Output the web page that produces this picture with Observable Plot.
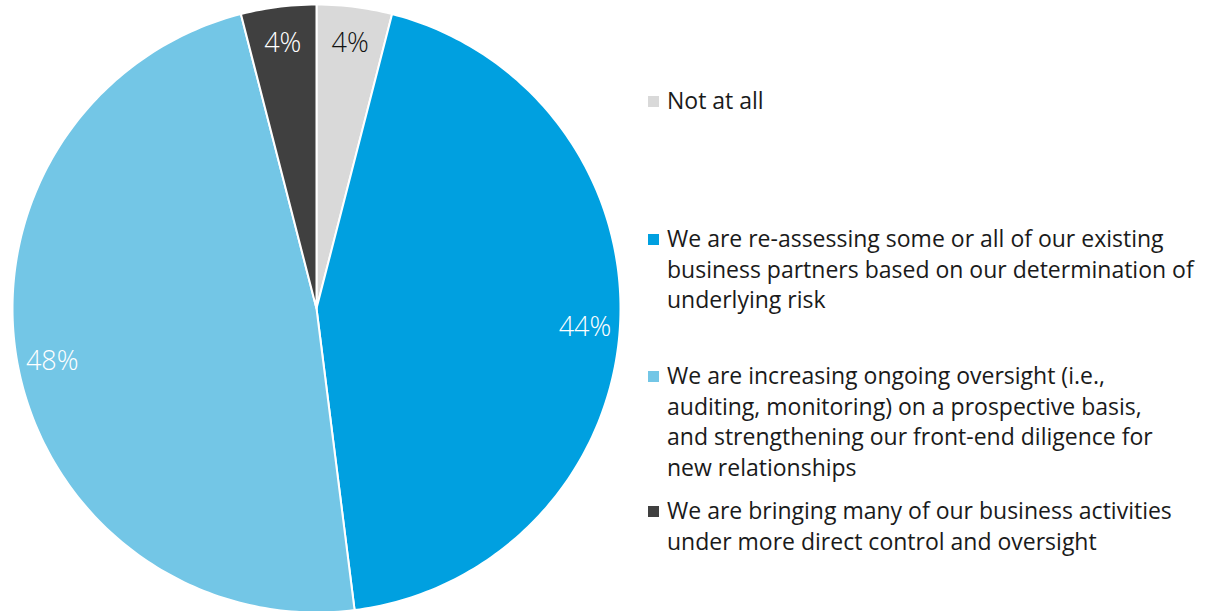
<!DOCTYPE html>
<html>
<head>
<meta charset="utf-8">
<script src="https://cdn.jsdelivr.net/npm/d3@7"></script>
<script src="https://cdn.jsdelivr.net/npm/@observablehq/plot@0.6"></script>
<style>
  html, body { margin: 0; padding: 0; background: #fff; }
  #wrap { position: relative; width: 1211px; height: 611px; overflow: hidden; font-family: "Open Sans", sans-serif; }
  #chart { position: absolute; left: 0; top: 0; }
  #chart text { font-family: "Open Sans", sans-serif; }
  #legend { position: absolute; left: 648px; top: 0; width: 563px; color: #1a1a1a; font-size: 23px; line-height: 30.5px; white-space: nowrap; }
  .item { position: absolute; left: 0; display: flex; align-items: flex-start; }
  .sw { width: 11px; height: 11px; margin-top: 11px; margin-right: 8px; flex: none; }
</style>
</head>
<body>
<div id="wrap">
  <div id="chart"></div>
  <div id="legend"></div>
</div>
<script>
const categories = [
  "Not at all",
  "We are re-assessing some or all of our existing business partners based on our determination of underlying risk",
  "We are increasing ongoing oversight (i.e., auditing, monitoring) on a prospective basis, and strengthening our front-end diligence for new relationships",
  "We are bringing many of our business activities under more direct control and oversight"
];
const legendLines = [
  ["Not at all"],
  ["We are re-assessing some or all of our existing", "business partners based on our determination of", "underlying risk"],
  ["We are increasing ongoing oversight (i.e.,", "auditing, monitoring) on a prospective basis,", "and strengthening our front-end diligence for", "new relationships"],
  ["We are bringing many of our business activities", "under more direct control and oversight"]
];
const values = [4, 44, 48, 4];
const labels = ["4%", "44%", "48%", "4%"];
const colors = ["#d9d9d9", "#00a0e0", "#73c6e6", "#404040"];
const labelColors = ["#111111", "#ffffff", "#ffffff", "#ffffff"];

// Build slice polygons (unit circle, clockwise from 12 o'clock)
const total = d3.sum(values);
const slices = [];
const labelPts = [];
let acc = 0;
values.forEach((v, i) => {
  const a0 = acc / total * 2 * Math.PI;
  acc += v;
  const a1 = acc / total * 2 * Math.PI;
  slices.push({cat: categories[i], x: 0, y: 0});
  const n = Math.max(8, Math.ceil((a1 - a0) / (Math.PI / 180)));
  for (let k = 0; k <= n; k++) {
    const a = a0 + (a1 - a0) * k / n;
    slices.push({cat: categories[i], x: Math.sin(a), y: Math.cos(a)});
  }
  slices.push({cat: categories[i], x: 0, y: 0});
  const am = (a0 + a1) / 2;
  const lr = 0.885;
  labelPts.push({cat: categories[i], label: labels[i], color: labelColors[i], x: lr * Math.sin(am), y: lr * Math.cos(am)});
});

const R = 304, cx = 316, cy = 308, W = 640, H = 611;
const plot = Plot.plot({
  width: W,
  height: H,
  margin: 0,
  x: {domain: [-cx / R, (W - cx) / R], range: [0, W], axis: null},
  y: {domain: [-(H - cy) / R, cy / R], range: [H, 0], axis: null},
  color: {domain: categories, range: colors},
  clip: true,
  marks: [
    Plot.line(slices, {x: "x", y: "y", z: "cat", fill: "cat", stroke: "white", strokeWidth: 2, strokeLinejoin: "round", curve: "linear"}),
    Plot.text(labelPts, {x: "x", y: "y", text: "label", fill: d => d.color, fontSize: 27, fontWeight: 300, fontFamily: "Open Sans", dy: 2})
  ]
});
document.getElementById("chart").appendChild(plot);

// Legend (HTML)
const tops = [85, 223, 360, 495];
const legend = document.getElementById("legend");
categories.forEach((c, i) => {
  const item = document.createElement("div");
  item.className = "item";
  item.style.top = tops[i] + "px";
  const sw = document.createElement("div");
  sw.className = "sw";
  sw.style.background = colors[i];
  const tx = document.createElement("div");
  tx.innerHTML = legendLines[i].join("<br>");
  item.appendChild(sw);
  item.appendChild(tx);
  legend.appendChild(item);
});
</script>
</body>
</html>
